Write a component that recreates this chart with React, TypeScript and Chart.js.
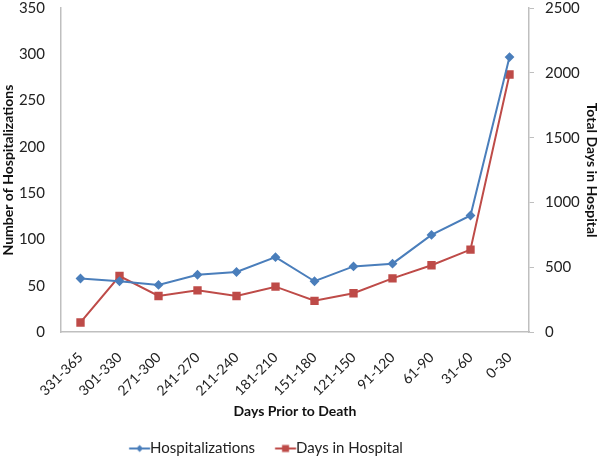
import React, { useEffect, useRef } from "react";
import { Chart, registerables } from "chart.js";
Chart.register(...registerables);

const categories = ["331-365", "301-330", "271-300", "241-270", "211-240", "181-210", "151-180", "121-150", "91-120", "61-90", "31-60", "0-30"];
const hospitalizations = [58, 55, 51, 62, 65, 81, 55, 71, 74, 105, 126, 297];
const daysInHospital = [75, 433, 279, 323, 279, 351, 242, 300, 415, 516, 637, 1987];

const BLUE = "#4a7ebb";
const RED = "#be4b48";
const FONT = "Lato, 'Open Sans', sans-serif";
const SHIFT_TOP = 12;
const EXTRA_BOTTOM = 9;
const LEGEND_SHIFT = 35;

function legendIcon(color: string, style: "diamond" | "square"): HTMLCanvasElement {
  const c = document.createElement("canvas");
  const w = 30, h = 10;
  c.width = w; c.height = h;
  const ctx = c.getContext("2d")!;
  const x0 = 8.25, x1 = 29.25, cx = (x0 + x1) / 2;
  ctx.strokeStyle = color; ctx.fillStyle = color; ctx.lineWidth = 2;
  ctx.beginPath(); ctx.moveTo(x0, h / 2); ctx.lineTo(x1, h / 2); ctx.stroke();
  if (style === "diamond") {
    ctx.beginPath(); ctx.moveTo(cx, 1.5); ctx.lineTo(cx + 3.5, h / 2); ctx.lineTo(cx, h - 1.5); ctx.lineTo(cx - 3.5, h / 2); ctx.closePath(); ctx.fill();
  } else {
    ctx.fillRect(cx - 3.5, h / 2 - 3.5, 7, 7);
  }
  return c;
}

const legendShift = {
  id: "legendShift",
  afterLayout(chart: any) {
    const l = chart.legend;
    if (l) { l.left -= LEGEND_SHIFT; l.right -= LEGEND_SHIFT; }
  },
};

export default function App() {
  const ref = useRef<HTMLCanvasElement | null>(null);
  useEffect(() => {
    document.body.style.margin = "0";
    document.body.style.overflow = "hidden";
    document.documentElement.style.overflow = "hidden";
    const icons = [legendIcon(BLUE, "diamond"), legendIcon(RED, "square")];
    const chart = new Chart(ref.current!, {
      type: "line",
      data: {
        labels: categories,
        datasets: [
          {
            label: "Hospitalizations",
            data: hospitalizations,
            borderColor: BLUE,
            backgroundColor: BLUE,
            borderWidth: 2,
            pointStyle: "rectRot",
            pointRadius: 3.5,
            yAxisID: "y",
          },
          {
            label: "Days in Hospital",
            data: daysInHospital,
            borderColor: RED,
            backgroundColor: RED,
            borderWidth: 2,
            pointStyle: "rect",
            pointRadius: 4.5,
            yAxisID: "y1",
          },
        ],
      },
      plugins: [legendShift],
      options: {
        animation: false,
        responsive: true,
        maintainAspectRatio: false,
        layout: { padding: { top: 0, left: 0, right: 0, bottom: 0 } },
        plugins: {
          legend: {
            position: "bottom",
            labels: {
              usePointStyle: true,
              pointStyleWidth: 13.5,
              generateLabels: (ch: any) => ch.data.datasets.map((ds: any, i: number) => ({
                text: ds.label,
                pointStyle: icons[i],
                fillStyle: ds.borderColor,
                strokeStyle: ds.borderColor,
                lineWidth: 0,
                datasetIndex: i,
                hidden: false,
                fontColor: "#222",
              })),
              font: { family: FONT, size: 15 },
              color: "#222",
              padding: 20,
              boxHeight: 10,
            },
          },
          tooltip: { enabled: false },
        },
        scales: {
          x: {
            offset: true,
            afterFit: (s: any) => { s.paddingLeft = 0; },
            grid: { display: false, drawTicks: true, tickLength: 13, tickColor: "rgba(0,0,0,0)" },
            border: { color: "#bfbfbf", width: 1.5 },
            ticks: {
              minRotation: 45,
              maxRotation: 45,
              font: { family: FONT, size: 14 },
              color: "#222",
              padding: 4,
            },
            title: {
              display: true,
              text: "Days Prior to Death",
              font: { family: FONT, size: 14, weight: "bold" },
              color: "#111",
              padding: { top: 0, bottom: 1 },
            },
          },
          y: {
            position: "left",
            min: 0,
            max: 350,
            afterFit: (s: any) => { s.width = 61; },
            ticks: { stepSize: 50, font: { family: FONT, size: 15 }, color: "#222", padding: 2 },
            grid: { display: true, drawOnChartArea: false, drawTicks: true, tickLength: 14, tickColor: "rgba(0,0,0,0)" },
            border: { color: "#bfbfbf", width: 1.5 },
            title: {
              display: true,
              text: "Number of Hospitalizations",
              font: { family: FONT, size: 14, weight: "bold" },
              color: "#111",
              padding: { top: 0, bottom: 0 },
            },
          },
          y1: {
            position: "right",
            min: 0,
            max: 2500,
            afterFit: (s: any) => { s.width = 73; },
            ticks: {
              stepSize: 500,
              font: { family: FONT, size: 15 },
              color: "#222",
              padding: 11,
              callback: (v: any) => String(v),
            },
            grid: { display: true, drawOnChartArea: false, drawTicks: true, tickLength: 5, tickColor: "#bfbfbf", tickWidth: 1 },
            border: { color: "#bfbfbf", width: 1.5 },
            title: {
              display: true,
              text: "Total Days in Hospital",
              font: { family: FONT, size: 14, weight: "bold" },
              color: "#111",
              padding: { top: 2, bottom: 0 },
            },
          },
        },
      },
    });
    return () => chart.destroy();
  }, []);
  return (
    <div style={{ position: "absolute", left: 0, top: -SHIFT_TOP, width: 602, height: 457 + SHIFT_TOP + EXTRA_BOTTOM }}>
      <canvas ref={ref} />
    </div>
  );
}
